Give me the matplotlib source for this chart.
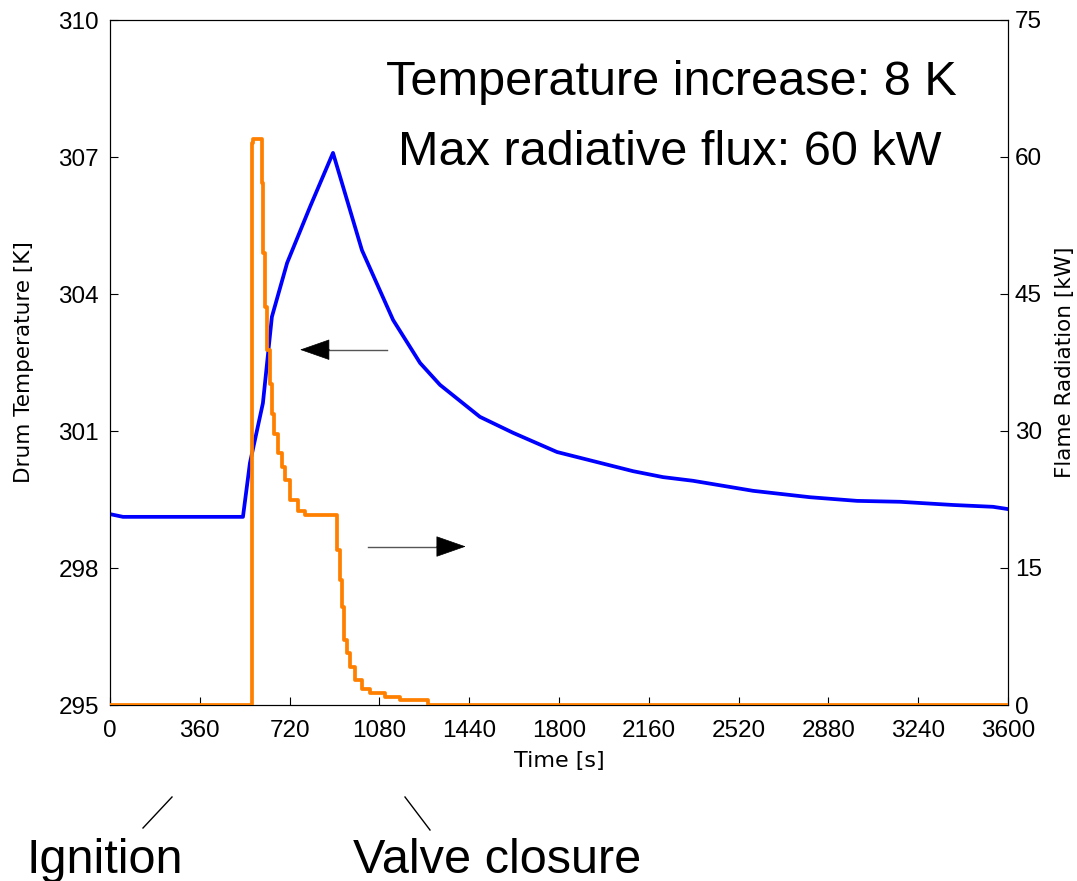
import matplotlib
matplotlib.use("Agg")
import matplotlib.pyplot as plt
from matplotlib import font_manager
from matplotlib.lines import Line2D

# ---------------- data ----------------
time_temp = [0, 52, 533, 561, 613, 649, 710, 802, 894, 1010, 1135, 1243, 1323,
             1483, 1616, 1792, 1952, 2097, 2217, 2337, 2578, 2806, 2995, 3167,
             3380, 3540, 3600]
drum_temp = [299.18, 299.12, 299.12, 300.30, 301.61, 303.50, 304.68, 305.91,
             307.09, 304.96, 303.43, 302.49, 302.01, 301.31, 300.96, 300.54,
             300.32, 300.12, 299.99, 299.91, 299.69, 299.55, 299.47, 299.45,
             299.38, 299.34, 299.29]

time_flux = [0, 569, 573, 609, 613, 621, 629, 641, 649, 657, 674, 690, 702, 722,
             754, 782, 910, 922, 930, 938, 950, 962, 982, 1010, 1042, 1102, 1163,
             1275, 3600]
flame_rad = [0, 61.5, 62.0, 57.1, 49.5, 43.6, 38.9, 35.2, 31.9, 29.7, 27.6, 26.1,
             24.6, 22.4, 21.2, 20.8, 17.0, 13.7, 10.7, 7.1, 5.7, 4.2, 2.7, 1.8,
             1.3, 0.9, 0.55, 0.0, 0.0]

x_ticks = [0, 360, 720, 1080, 1440, 1800, 2160, 2520, 2880, 3240, 3600]
left_ticks = [295, 298, 301, 304, 307, 310]
right_ticks = [0, 15, 30, 45, 60, 75]

# ---------------- fonts ----------------
names = {f.name for f in font_manager.fontManager.ttflist}
narrow = 'Liberation Sans Narrow' in names
big_family = ['Liberation Sans Narrow', 'Liberation Sans'] if narrow else ['Liberation Sans']
big_size = 40 if narrow else 35
tick_family = ['Liberation Sans', 'DejaVu Sans']
label_family = ['DejaVu Sans']

W, H = 1077, 881
fig = plt.figure(figsize=(W / 100, H / 100), dpi=100)
ax = fig.add_axes([110 / W, 1 - 705 / H, (1008 - 110) / W, (705 - 20) / H])
ax2 = ax.twinx()

blue = '#0000FF'
orange = '#FF8000'

ax.plot(time_temp, drum_temp, color=blue, lw=2.7, solid_joinstyle='round', zorder=3)
ax2.plot(time_flux, flame_rad, color=orange, lw=2.7, drawstyle='steps-post',
         solid_joinstyle='round', zorder=3)

ax.set_xlim(0, 3600)
ax.set_ylim(295, 310)
ax2.set_ylim(0, 75)

ax.set_xticks(x_ticks)
ax.set_yticks(left_ticks)
ax2.set_yticks(right_ticks)

for a in (ax, ax2):
    a.tick_params(direction='in', length=6, width=0.8, labelsize=17.5)
    for lab in a.get_xticklabels() + a.get_yticklabels():
        lab.set_family(tick_family)
ax.tick_params(axis='y', pad=8)
ax.tick_params(axis='x', pad=11)
ax2.tick_params(axis='y', pad=5)

ax.set_xlabel('Time [s]', fontsize=16, family=label_family)
ax.set_ylabel('Drum Temperature [K]', fontsize=15.5, family=label_family)
ax2.set_ylabel('Flame Radiation [kW]', fontsize=15.5, family=label_family)
ax.yaxis.set_label_coords((24 - 110) / (1008 - 110), 0.5)
ax2.yaxis.set_label_coords((1065 - 110) / (1008 - 110), 0.5)
ax.xaxis.set_label_coords(0.5, -(761 - 705) / (705 - 20))
for lab in (ax.yaxis.label, ax2.yaxis.label):
    lab.set_va('center')
    lab.set_ha('center')
    lab.set_rotation(90)
ax.xaxis.label.set_va('center')

# ---------------- arrows ----------------
# left arrow (points to temperature axis)
ax.plot([1110, 870], [302.78, 302.78], color='#555555', lw=1.0, zorder=4)
ax.annotate('', xy=(762, 302.78), xytext=(880, 302.78),
            arrowprops=dict(arrowstyle='-|>,head_length=20,head_width=7',
                            mutation_scale=1, color='black', lw=0.5,
                            shrinkA=0, shrinkB=0), zorder=5)
# right arrow (points to radiation axis)
ax.plot([1034, 1330], [298.47, 298.47], color='#555555', lw=1.0, zorder=4)
ax.annotate('', xy=(1426, 298.47), xytext=(1310, 298.47),
            arrowprops=dict(arrowstyle='-|>,head_length=20,head_width=7',
                            mutation_scale=1, color='black', lw=0.5,
                            shrinkA=0, shrinkB=0), zorder=5)

# ---------------- big texts ----------------
fig.text(671 / W, 1 - 95 / H, 'Temperature increase: 8 K', ha='center', va='baseline',
         fontsize=big_size, family=big_family)
fig.text(670 / W, 1 - 165 / H, 'Max radiative flux: 60 kW', ha='center', va='baseline',
         fontsize=big_size, family=big_family)

fig.text(105 / W, 1 - 873 / H, 'Ignition', ha='center', va='baseline',
         fontsize=big_size, family=big_family)
fig.text(497 / W, 1 - 873 / H, 'Valve closure', ha='center', va='baseline',
         fontsize=big_size, family=big_family)

fig.add_artist(Line2D([172 / W, 143 / W], [1 - 797 / H, 1 - 828 / H],
                      transform=fig.transFigure, color='black', lw=1.0))
fig.add_artist(Line2D([405 / W, 430 / W], [1 - 797 / H, 1 - 830 / H],
                      transform=fig.transFigure, color='black', lw=1.0))

fig.savefig('out.png', dpi=100)
